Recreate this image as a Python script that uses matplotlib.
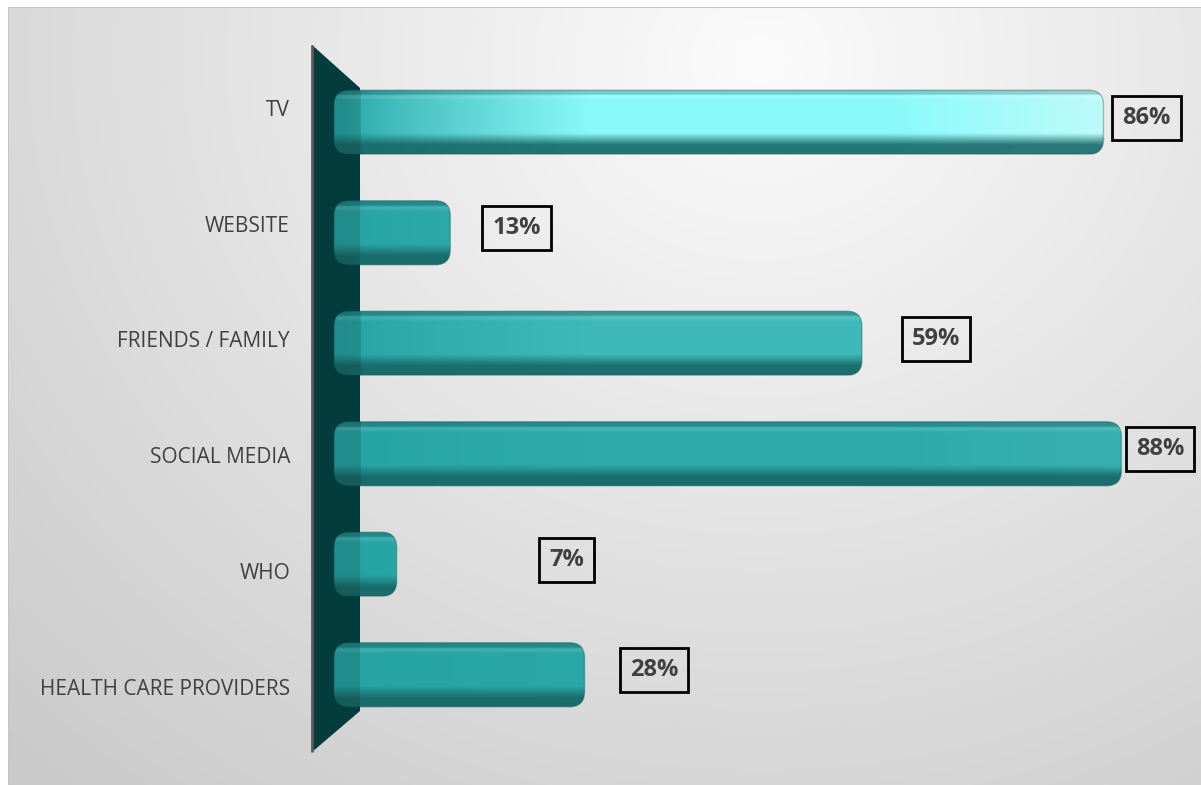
import numpy as np
import matplotlib
matplotlib.use("Agg")
import matplotlib.pyplot as plt
from matplotlib.patches import FancyBboxPatch, Polygon
from matplotlib.transforms import Affine2D

plt.rcParams['font.family'] = ['Open Sans', 'DejaVu Sans']

# data
categories = ["TV", "WEBSITE", "FRIENDS / FAMILY", "SOCIAL MEDIA", "WHO",
              "HEALTH CARE PROVIDERS"]
values = [86, 13, 59, 88, 7, 28]
value_labels = [f"{v}%" for v in values]

# label placement (the labels were dragged around by hand in the original)
LABEL_GAP = [4.8, 7.4, 8.3, 4.3, 19.0, 7.8]
LIGHT = [1.0, 0.12, 0.25, 0.08, 0.06, 0.04]   # how much the light hits each bar

W, H = 1201, 785
fig = plt.figure(figsize=(W / 100, H / 100), dpi=100)
# pixel coords of the picture (origin top-left) -> figure
px = Affine2D().scale(1 / W, -1 / H).translate(0, 1) + fig.transFigure

# background: soft radial grey
bgax = fig.add_axes([0, 0, 1, 1], zorder=-1)
yy, xx = np.mgrid[0:H, 0:W]
r = np.sqrt(((xx - 760) / 900) ** 2 + ((yy - 60) / 800) ** 2)
g = np.clip(0.985 - 0.16 * r, 0, 1)
bg = np.dstack([g, g, g])
bg[:7, :] = 1
bg[:, :8] = 1
bg[7, 8:] = 0.78
bg[7:, 8] = 0.78
bgax.imshow(bg, aspect='auto', interpolation='nearest')
bgax.axis('off')

ax = fig.add_axes([334 / W, 55 / H, 859 / W, 663 / H])
ax.patch.set_visible(False)
ax.set_xlim(0, 96)
ax.set_ylim(5.5, -0.5)
ax.axis('off')

# dark "wall" on the left
wall = Polygon([(312, 45), (360, 88), (360, 711), (312, 752)], closed=True,
               transform=px, fc='#033c3c', ec='none', zorder=1, clip_on=False)
ax.add_patch(wall)
ax.plot([312, 312], [45, 752], transform=px, color='#5a5a5a', lw=2,
        clip_on=False, zorder=1.1, solid_capstyle='butt')

to_data = ax.transData.inverted()
wall_x = to_data.transform(px.transform((360, 0)))[0]
label_x = to_data.transform(px.transform((290, 0)))[0]
x_per_px = 96 / 859
y_per_px = 6 / 663


def bar_image(x0, x1, light):
    n_rows, n_cols = 80, max(int((x1 - x0) * 10), 8)
    t = np.linspace(0, 1, n_rows)[:, None]
    xs = np.linspace(x0, x1, n_cols)[None, :]
    base = np.array([0.15, 0.64, 0.64])
    hl_lo = np.array([0.54, 0.98, 0.98])
    hl_hi = np.array([0.80, 0.985, 0.985])

    lit1 = light * np.clip((xs - 1) / 28, 0, 1) ** 0.8
    lit2 = light * np.clip((xs - 62) / 26, 0, 1) * 0.85
    body = base * (1 - lit1[..., None]) + hl_lo * lit1[..., None]
    body = body * (1 - lit2[..., None]) + hl_hi * lit2[..., None]
    body = np.broadcast_to(body, (n_rows, n_cols, 3)).copy()

    # vertical shading: top rim, bright line, dark underside
    shade = np.ones((n_rows, 1))
    shade[t[:, 0] < 0.08] = 0.82
    line = np.exp(-((t - 0.12) / 0.03) ** 2)
    bottom = np.clip((t - 0.68) / 0.18, 0, 1)
    rim = base * 0.62
    body = body * shade[..., None]
    body = body + (0.12 * line)[..., None] * (1 - body)
    body = body * (1 - bottom[..., None] * 0.88) + rim * bottom[..., None] * 0.88
    # part in front of the wall a bit darker
    body[:, xs[0] < wall_x] *= 0.86
    return np.clip(body, 0, 1)


bars = ax.barh(range(len(values)), values, height=0.58, color='none')
r_px = 15
rx = r_px * x_per_px
aspect = (r_px * y_per_px) / rx
for i, rect in enumerate(bars):
    x0, y0 = rect.get_x(), rect.get_y()
    w, h = rect.get_width(), rect.get_height()
    rect.set_visible(False)
    patch = FancyBboxPatch((x0, y0), w, h,
                           boxstyle=f"round,pad=0,rounding_size={rx}",
                           mutation_aspect=aspect, fc='none',
                           ec=(0.05, 0.3, 0.3, 0.35), lw=1, zorder=3)
    ax.add_patch(patch)
    im = ax.imshow(bar_image(x0, x0 + w, LIGHT[i]),
                   extent=(x0, x0 + w, y0 + h, y0), aspect='auto',
                   zorder=2, interpolation='bilinear')
    im.set_clip_path(patch)

ax.set_xlim(0, 96)
ax.set_ylim(5.5, -0.5)

for i, (v, lab) in enumerate(zip(values, value_labels)):
    ax.text(v + LABEL_GAP[i], i - 0.04, lab, ha='center', va='center',
            fontsize=17, fontweight='bold', color='#404040', zorder=4,
            bbox=dict(boxstyle='square,pad=0.42', fc='none', ec='black', lw=2))

for i, cat in enumerate(categories):
    ax.text(label_x, i * 1.049 - 0.11, cat, ha='right', va='center',
            fontsize=15, color='#404040', clip_on=False)

fig.savefig("out.png", dpi=100)
